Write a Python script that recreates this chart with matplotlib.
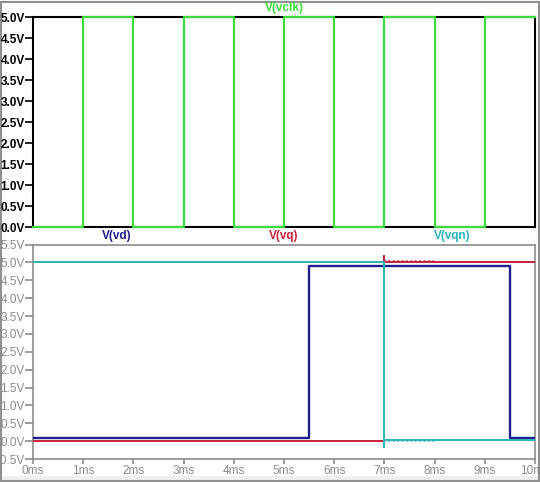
import matplotlib
matplotlib.use('Agg')
import matplotlib.pyplot as plt
from matplotlib.patches import Rectangle

# waveform data (time in ms, volts)
clk_t = [0, 1, 2, 3, 4, 5, 6, 7, 8, 9, 10]
clk_v = [0, 5, 0, 5, 0, 5, 0, 5, 0, 5, 5]

vd_t = [0, 5.5, 9.5, 10]
vd_v = [0.1, 4.9, 0.1, 0.1]

vq_t = [0, 7.0, 7.0, 7.0, 10]
vq_v = [0.0, 0.0, 5.18, 5.0, 5.0]

vqn_t = [0, 7.0, 7.0, 7.0, 10]
vqn_v = [5.0, 5.0, -0.17, 0.02, 0.02]

# small ringing right after the edge, drawn as dotted segments
ring_t = [7.0, 8.0]
vq_ring = [5.05, 5.05]
vqn_ring = [0.0, 0.0]

top_ticks = [0.0, 0.5, 1.0, 1.5, 2.0, 2.5, 3.0, 3.5, 4.0, 4.5, 5.0]
bot_ticks = [-0.5, 0.0, 0.5, 1.0, 1.5, 2.0, 2.5, 3.0, 3.5, 4.0, 4.5, 5.0, 5.5]
x_ticks = [0, 1, 2, 3, 4, 5, 6, 7, 8, 9, 10]

green = '#3ddc3d'
navy = '#1f1f8f'
red = '#c8203a'
cyan = '#2ab4b8'
gray = '#8c8c8c'

plt.rcParams['font.family'] = ['Liberation Sans', 'DejaVu Sans']

fig = plt.figure(figsize=(5.4, 4.82), dpi=100)
fig.patch.set_facecolor('white')

# window border like the LTspice frame
fig.patches.append(Rectangle((0, 0.0), 1, 0.012, transform=fig.transFigure,
                             facecolor='#f0f0f0', edgecolor='none', zorder=-5))
fig.patches.append(Rectangle((0.002, 0.002), 0.996, 0.994, transform=fig.transFigure,
                             facecolor='none', edgecolor='#909090', lw=1.5, zorder=-5))

# top pane: clock
ax1 = fig.add_axes([0.0611, 0.529, 0.9296, 0.4357])
ax1.plot(clk_t, clk_v, drawstyle='steps-post', color=green, lw=1.6, clip_on=False, zorder=3)
ax1.set_xlim(0, 10)
ax1.set_ylim(0, 5)
ax1.set_yticks(top_ticks)
ax1.set_yticklabels(['%.1fV' % v for v in top_ticks])
ax1.set_xticks([])
ax1.tick_params(axis='y', direction='out', length=6, width=1.2, color='black',
                labelsize=8.5, pad=0, labelcolor='black')
for s in ax1.spines.values():
    s.set_color('black')
    s.set_linewidth(1.5)
for lab in ax1.get_yticklabels():
    lab.set_fontweight('bold')
ax1.text(0.5, 1.015, 'V(vclk)', transform=ax1.transAxes, ha='center', va='bottom',
         color=green, fontsize=8.5, fontweight='bold')

# bottom pane: vd, vq, vqn
ax2 = fig.add_axes([0.0611, 0.0477, 0.9296, 0.445])
ax2.plot(vd_t, vd_v, drawstyle='steps-post', color=navy, lw=1.7, zorder=3)
ax2.plot(vq_t, vq_v, color=red, lw=1.4, zorder=4)
ax2.plot(ring_t, vq_ring, color=red, lw=1.2, ls=':', zorder=4)
ax2.plot(vqn_t, vqn_v, color=cyan, lw=1.4, zorder=5)
ax2.plot(ring_t, vqn_ring, color=cyan, lw=1.2, ls=':', zorder=5)
ax2.set_xlim(0, 10)
ax2.set_ylim(-0.5, 5.5)
ax2.set_yticks(bot_ticks)
ax2.set_yticklabels(['%.1fV' % v for v in bot_ticks])
ax2.set_xticks(x_ticks)
ax2.set_xticklabels(['%dms' % t for t in x_ticks])
ax2.tick_params(axis='both', direction='out', width=1.2, color=gray,
                labelsize=8.5, labelcolor=gray)
ax2.tick_params(axis='y', length=6, pad=0)
ax2.tick_params(axis='x', length=3.5, pad=1)
for s in ax2.spines.values():
    s.set_color(gray)
    s.set_linewidth(1.2)
ax2.text(0.167, 1.01, 'V(vd)', transform=ax2.transAxes, ha='center', va='bottom',
         color=navy, fontsize=8.5, fontweight='bold')
ax2.text(0.5, 1.01, 'V(vq)', transform=ax2.transAxes, ha='center', va='bottom',
         color=red, fontsize=8.5, fontweight='bold')
ax2.text(0.835, 1.01, 'V(vqn)', transform=ax2.transAxes, ha='center', va='bottom',
         color=cyan, fontsize=8.5, fontweight='bold')

fig.savefig('out.png', dpi=100)
